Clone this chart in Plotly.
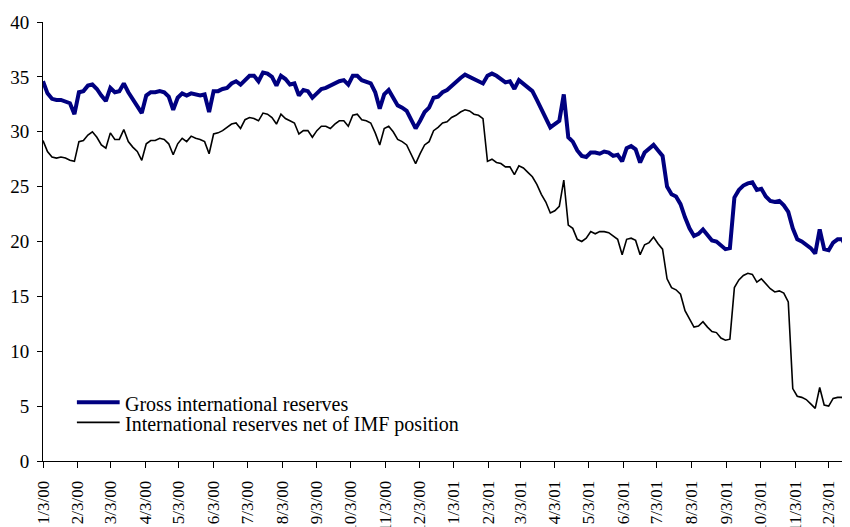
import pandas as pd
import plotly.graph_objects as go

# Observations every 4 days starting 3 Jan 2000 (values in US$ billions)
START_DATE = "2000-01-03"
STEP = "4D"

GROSS = [
    34.6, 33.5, 33.0, 32.9, 32.9, 32.7, 32.6, 31.6, 33.6, 33.7,
    34.2, 34.3, 33.9, 33.3, 32.8, 34.0, 33.6, 33.7, 34.4, 33.6,
    33.0, 32.4, 31.7, 33.3, 33.6, 33.6, 33.7, 33.6, 33.2, 32.0,
    33.1, 33.5, 33.3, 33.5, 33.4, 33.3, 33.4, 31.8, 33.7, 33.7,
    33.9, 34.0, 34.4, 34.6, 34.3, 34.7, 35.1, 35.1, 34.6, 35.4,
    35.3, 35.0, 34.2, 35.1, 34.8, 34.3, 34.4, 33.3, 33.8, 33.7,
    33.1, 33.5, 33.9, 34.0, 34.2, 34.5, 34.6, 34.7, 34.3, 35.1,
    35.1, 34.7, 34.5, 34.4, 33.6, 32.1, 33.4, 33.8, 33.1, 32.4,
    32.2, 31.9, 31.1, 30.3, 31.0, 31.8, 32.2, 33.1, 33.2, 33.6,
    33.8, 34.2, 34.6, 34.9, 35.2, 35.0, 34.8, 34.6, 34.4, 35.1,
    35.3, 35.1, 34.8, 34.5, 34.6, 33.9, 34.7, 34.4, 34.0, 33.7,
    32.9, 32.1, 31.4, 30.4, 30.7, 31.0, 33.4, 29.5, 29.1, 28.3,
    27.8, 27.7, 28.1, 28.1, 28.0, 28.2, 28.1, 27.8, 27.9, 27.3,
    28.5, 28.7, 28.4, 27.2, 28.1, 28.4, 28.8, 28.3, 27.8, 25.0,
    24.3, 24.1, 23.4, 22.2, 21.2, 20.5, 20.7, 21.1, 20.6, 20.1,
    20.0, 19.6, 19.3, 19.4, 24.0, 24.7, 25.1, 25.3, 25.4, 24.7,
    24.8, 24.1, 23.7, 23.6, 23.7, 23.3, 22.7, 21.2, 20.2, 20.0,
    19.7, 19.4, 18.9, 21.1, 19.3, 19.2, 19.9, 20.2, 20.2, 19.4,
]

NET = [
    29.2, 28.2, 27.7, 27.6, 27.7, 27.6, 27.4, 27.3, 29.1, 29.2,
    29.7, 30.0, 29.5, 28.8, 28.5, 29.9, 29.3, 29.3, 30.2, 29.1,
    28.6, 28.2, 27.4, 28.9, 29.2, 29.2, 29.4, 29.3, 28.9, 27.9,
    28.9, 29.4, 29.1, 29.6, 29.4, 29.3, 29.1, 28.0, 29.8, 29.9,
    30.1, 30.4, 30.7, 30.8, 30.3, 31.1, 31.3, 31.2, 31.0, 31.7,
    31.6, 31.3, 30.7, 31.6, 31.2, 31.0, 30.8, 29.8, 30.1, 30.1,
    29.5, 30.1, 30.5, 30.5, 30.3, 30.7, 31.0, 31.0, 30.5, 31.5,
    31.6, 31.1, 31.0, 30.8, 29.9, 28.8, 30.3, 30.5, 30.0, 29.3,
    29.1, 28.8, 28.0, 27.1, 28.0, 28.8, 29.1, 30.1, 30.4, 30.8,
    30.9, 31.3, 31.5, 31.8, 32.0, 31.9, 31.6, 31.5, 31.2, 27.3,
    27.5, 27.2, 27.1, 26.8, 26.8, 26.1, 26.9, 26.7, 26.3, 25.9,
    25.2, 24.3, 23.6, 22.6, 22.8, 23.2, 25.6, 21.5, 21.2, 20.2,
    20.0, 20.3, 20.9, 20.7, 20.9, 20.9, 20.8, 20.5, 20.2, 18.8,
    20.2, 20.3, 20.1, 18.8, 19.7, 19.9, 20.4, 19.8, 19.3, 16.6,
    15.8, 15.6, 15.2, 13.7, 13.0, 12.2, 12.3, 12.7, 12.2, 11.8,
    11.7, 11.2, 11.0, 11.1, 15.8, 16.5, 16.9, 17.1, 17.0, 16.3,
    16.6, 16.1, 15.7, 15.4, 15.5, 15.3, 14.5, 6.6, 5.9, 5.8,
    5.6, 5.2, 4.8, 6.7, 5.1, 5.0, 5.7, 5.8, 5.8, 5.1,
]

TICK_LABELS = [
    "1/3/00", "2/3/00", "3/3/00", "4/3/00", "5/3/00", "6/3/00",
    "7/3/00", "8/3/00", "9/3/00", "10/3/00", "11/3/00", "12/3/00",
    "1/3/01", "2/3/01", "3/3/01", "4/3/01", "5/3/01", "6/3/01",
    "7/3/01", "8/3/01", "9/3/01", "10/3/01", "11/3/01", "12/3/01",
]

SERIES = [
    ("Gross international reserves", GROSS, "#000080", 4),
    ("International reserves net of IMF position", NET, "#000000", 1.6),
]

dates = pd.date_range(START_DATE, periods=len(GROSS), freq=STEP)
tick_vals = pd.to_datetime(TICK_LABELS, format="%m/%d/%y")

FONT = "Liberation Serif, Times New Roman, serif"

fig = go.Figure()
for name, vals, color, width in SERIES:
    fig.add_trace(go.Scatter(
        x=dates, y=vals, mode="lines", name=name,
        line=dict(color=color, width=width),
    ))

# legend drawn by hand, bottom-left inside the plot area
for i, (name, vals, color, width) in enumerate(SERIES):
    ly = 0.134 - i * 0.046
    fig.add_shape(
        type="line", xref="paper", yref="paper",
        x0=0.042, x1=0.095, y0=ly, y1=ly,
        line=dict(color=color, width=width),
    )
    fig.add_annotation(
        xref="paper", yref="paper", x=0.099, y=ly,
        xanchor="left", yanchor="middle", showarrow=False,
        text=name, font=dict(size=20), yshift=-2,
    )

fig.update_layout(
    width=842, height=519,
    margin=dict(l=35, r=0, t=14, b=66),
    paper_bgcolor="white", plot_bgcolor="white",
    font=dict(family=FONT, size=18, color="black"),
    showlegend=False,
    xaxis=dict(
        range=["2000-01-03", "2001-12-22"],
        tickvals=tick_vals, ticktext=TICK_LABELS,
        tickangle=-90, tickfont=dict(size=17),
        ticks="outside", ticklen=6, tickcolor="black",
        showline=True, linecolor="black", linewidth=1,
        showgrid=False, zeroline=False, automargin=False,
        ticklabelstandoff=6,
    ),
    yaxis=dict(
        range=[0, 40], dtick=5,
        ticks="outside", ticklen=5, tickcolor="black",
        showline=True, linecolor="black", linewidth=1,
        showgrid=False, zeroline=False, automargin=False,
        tickfont=dict(size=19), ticklabelstandoff=4,
    ),
)

fig.write_html("out.html")
